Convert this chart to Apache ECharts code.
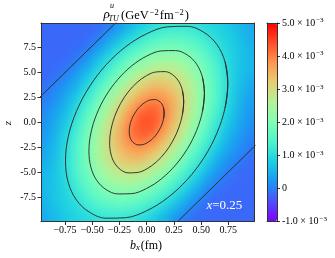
<!DOCTYPE html>
<html>
<head>
<meta charset="utf-8">
<script src="https://cdn.jsdelivr.net/npm/echarts@6.0.0/dist/echarts.min.js"></script>
<style>
html,body{margin:0;padding:0;background:#fff;}
#chart{width:335px;height:258px;}
/* smoothing layer for the density map (zlevel 1), kept inside the plot frame */
#chart canvas[data-zr-dom-id="zr_1"]{filter:blur(4.5px);clip-path:inset(23.5px 81px 37px 41.5px);}
</style>
</head>
<body>
<div id="chart"></div>
<script>
// cell centres along b_x (fm)
const bxCenters = [-0.95,-0.85,-0.75,-0.65,-0.55,-0.45,-0.35,-0.25,-0.15,-0.05,0.05,0.15,0.25,0.35,0.45,0.55,0.65,0.75,0.85,0.95];
// cell centres along z, top row first
const zCenters = [9.5,8.5,7.5,6.5,5.5,4.5,3.5,2.5,1.5,0.5,-0.5,-1.5,-2.5,-3.5,-4.5,-5.5,-6.5,-7.5,-8.5,-9.5];
// rho_TU^u in units of 1e-3 GeV^-2 fm^-2 ; one row per z (zCenters), columns follow bxCenters
const rhoTU = [
 [-0.18,-0.18,-0.18,-0.18,-0.18,-0.16,0.00,0.27,0.56,0.83,1.01,1.15,1.20,1.19,1.10,0.97,0.90,0.74,0.58,0.42],
 [-0.18,-0.18,-0.18,-0.18,-0.17,-0.02,0.27,0.60,0.92,1.18,1.38,1.50,1.55,1.50,1.38,1.19,0.97,0.85,0.65,0.47],
 [-0.18,-0.18,-0.18,-0.17,-0.05,0.23,0.59,0.97,1.28,1.55,1.75,1.86,1.88,1.80,1.64,1.40,1.11,0.88,0.71,0.51],
 [-0.18,-0.18,-0.17,-0.07,0.17,0.52,0.94,1.31,1.64,1.91,2.13,2.26,2.25,2.11,1.88,1.59,1.26,0.93,0.70,0.54],
 [-0.18,-0.17,-0.09,0.12,0.41,0.85,1.26,1.65,1.99,2.34,2.57,2.67,2.62,2.41,2.09,1.74,1.36,0.97,0.70,0.55],
 [-0.17,-0.12,0.07,0.32,0.70,1.15,1.57,1.98,2.42,2.77,3.00,3.06,2.94,2.66,2.28,1.85,1.43,1.00,0.67,0.48],
 [-0.13,0.02,0.23,0.51,0.96,1.42,1.87,2.36,2.82,3.19,3.42,3.43,3.22,2.85,2.40,1.90,1.45,1.00,0.62,0.40],
 [-0.04,0.14,0.38,0.75,1.20,1.68,2.18,2.72,3.20,3.62,3.85,3.76,3.41,2.95,2.44,1.90,1.43,0.96,0.56,0.33],
 [0.05,0.25,0.50,0.94,1.42,1.90,2.48,3.03,3.56,4.04,4.20,4.00,3.50,2.97,2.41,1.85,1.36,0.89,0.49,0.25],
 [0.13,0.35,0.66,1.11,1.60,2.12,2.71,3.28,3.87,4.33,4.37,4.03,3.45,2.88,2.30,1.75,1.25,0.79,0.42,0.18],
 [0.18,0.42,0.79,1.25,1.75,2.30,2.88,3.45,4.03,4.37,4.33,3.87,3.28,2.71,2.12,1.60,1.11,0.66,0.35,0.13],
 [0.25,0.49,0.89,1.36,1.85,2.41,2.97,3.50,4.00,4.20,4.04,3.56,3.03,2.48,1.90,1.42,0.94,0.50,0.25,0.05],
 [0.33,0.56,0.96,1.43,1.90,2.44,2.95,3.41,3.76,3.85,3.62,3.20,2.72,2.18,1.68,1.20,0.75,0.38,0.14,-0.04],
 [0.40,0.62,1.00,1.45,1.90,2.40,2.85,3.22,3.43,3.42,3.19,2.82,2.36,1.87,1.42,0.96,0.51,0.23,0.02,-0.13],
 [0.48,0.67,1.00,1.43,1.85,2.28,2.66,2.94,3.06,3.00,2.77,2.42,1.98,1.57,1.15,0.70,0.32,0.07,-0.12,-0.17],
 [0.55,0.70,0.97,1.36,1.74,2.09,2.41,2.62,2.67,2.57,2.34,1.99,1.65,1.26,0.85,0.41,0.12,-0.09,-0.17,-0.18],
 [0.54,0.70,0.93,1.26,1.59,1.88,2.11,2.25,2.26,2.13,1.91,1.64,1.31,0.94,0.52,0.17,-0.07,-0.17,-0.18,-0.18],
 [0.51,0.71,0.88,1.11,1.40,1.64,1.80,1.88,1.86,1.75,1.55,1.28,0.97,0.59,0.23,-0.05,-0.17,-0.18,-0.18,-0.18],
 [0.47,0.65,0.85,0.97,1.19,1.38,1.50,1.55,1.50,1.38,1.18,0.92,0.60,0.27,-0.02,-0.17,-0.18,-0.18,-0.18,-0.18],
 [0.42,0.58,0.74,0.90,0.97,1.10,1.19,1.20,1.15,1.01,0.83,0.56,0.27,0.00,-0.16,-0.18,-0.18,-0.18,-0.18,-0.18]
];
// contour lines, [b_x, z]  (levels 4, 3, 2, 1 x 1e-3, and 0)
const contour4 = [[0.16,0.91],[0.155,1.42],[0.139,1.83],[0.113,2.11],[0.08,2.26],[0.041,2.24],[0,2.08],[-0.041,1.77],[-0.08,1.35],[-0.113,0.83],[-0.139,0.25],[-0.155,-0.34],
                  [-0.16,-0.91],[-0.155,-1.42],[-0.139,-1.83],[-0.113,-2.11],[-0.08,-2.26],[-0.041,-2.24],[0,-2.08],[0.041,-1.77],[0.08,-1.35],[0.113,-0.83],[0.139,-0.25],[0.155,0.34]];
const contour3 = [[0.34,2.03],[0.328,3.17],[0.294,4.09],[0.24,4.73],[0.17,5.05],[0.088,5.02],[0,4.66],[-0.088,3.97],[-0.17,3.02],[-0.24,1.86],[-0.294,0.57],[-0.328,-0.76],
                  [-0.34,-2.03],[-0.328,-3.17],[-0.294,-4.09],[-0.24,-4.73],[-0.17,-5.05],[-0.088,-5.02],[0,-4.66],[0.088,-3.97],[0.17,-3.02],[0.24,-1.86],[0.294,-0.57],[0.328,0.76]];
const contour2 = [[0.53,2.88],[0.512,4.49],[0.459,5.79],[0.375,6.70],[0.265,7.15],[0.137,7.12],[0,6.60],[-0.137,5.63],[-0.265,4.27],[-0.375,2.63],[-0.459,0.81],[-0.512,-1.07],
                  [-0.53,-2.88],[-0.512,-4.49],[-0.459,-5.79],[-0.375,-6.70],[-0.265,-7.15],[-0.137,-7.12],[0,-6.60],[0.137,-5.63],[0.265,-4.27],[0.375,-2.63],[0.459,-0.81],[0.512,1.07]];
const contour1 = [[0.745,3.85],[0.72,6.01],[0.645,7.75],[0.527,8.96],[0.373,9.57],[0.193,9.52],[0,8.83],[-0.193,7.53],[-0.373,5.72],[-0.527,3.52],[-0.645,1.08],[-0.72,-1.44],
                  [-0.745,-3.85],[-0.72,-6.01],[-0.645,-7.75],[-0.527,-8.96],[-0.373,-9.57],[-0.193,-9.52],[0,-8.83],[0.193,-7.53],[0.373,-5.72],[0.527,-3.52],[0.645,-1.08],[0.72,1.44]];
const zeroLineUpper = [[-1.0,2.29],[-0.7,5.49],[-0.4,8.68],[-0.25,10.28]];
const zeroLineLower = [[1.0,-2.29],[0.7,-5.49],[0.4,-8.68],[0.25,-10.28]];
// tick values
const xTicks = [-0.75,-0.5,-0.25,0,0.25,0.5,0.75];
const yTicks = [-7.5,-5,-2.5,0,2.5,5,7.5];
const cbTicks = [-1,0,1,2,3,4,5];

const rainbow = ['#8000ff','#4d4ffc','#1a96f3','#1acee3','#4df3ce','#80ffb4','#b3f396','#e6ce74','#ff964f','#ff4f28','#ff0000'];
const FONT = '"Liberation Serif","Times New Roman",serif';
const TOP = 2;

const cells = [];
zCenters.forEach((z, i) => bxCenters.forEach((x, j) => cells.push([x, z, rhoTU[i][j]])));
const halfW = (bxCenters[1] - bxCenters[0]) / 2;
const halfH = (zCenters[0] - zCenters[1]) / 2;

const cellRender = (params, api) => {
  const x = api.value(0), y = api.value(1);
  const a = api.coord([x - halfW, y + halfH]);
  const b = api.coord([x + halfW, y - halfH]);
  return {type: 'rect', shape: {x: a[0], y: a[1], width: b[0] - a[0] + 0.6, height: b[1] - a[1] + 0.6},
          style: {fill: api.visual('color')}};
};
const mapSeries = (zlevel, clip) => ({
  type: 'custom', xAxisIndex: 0, yAxisIndex: 0, data: cells, silent: true, z: 1, zlevel: zlevel, clip: clip,
  dimensions: ['bx', 'z', 'rho'], encode: {x: 0, y: 1}, renderItem: cellRender
});

const loop = a => [a[a.length - 1]].concat(a, [a[0], a[1]]);
const lineStyle = {color: '#262626', width: 0.9};
const contourSeries = [contour4, contour3, contour2, contour1].map(c => ({
  type: 'line', data: loop(c), smooth: 0.35, symbol: 'none', silent: true, z: 5, zlevel: TOP,
  clip: true, lineStyle: lineStyle
}));
const zeroSeries = [zeroLineUpper, zeroLineLower].map(c => ({
  type: 'line', data: c, smooth: 0.3, symbol: 'none', silent: true, z: 5, zlevel: TOP, clip: true, lineStyle: lineStyle
}));

const frame = {show: true, onZero: false, lineStyle: {color: '#333', width: 1}};
const noTick = {show: false};
const noLabel = {show: false};
const labelBase = {color: '#000', fontFamily: FONT, fontSize: 10};

const chart = echarts.init(document.getElementById('chart'), null, {renderer: 'canvas'});
chart.setOption({
  animation: false,
  grid: [
    {left: 41, top: 23, width: 213.5, height: 198.5},
    {left: 267, top: 23, width: 10, height: 198.5}
  ],
  xAxis: [
    {gridIndex: 0, type: 'value', position: 'bottom', min: -0.97, max: 0.99, zlevel: TOP, z: 10,
     axisLine: frame, splitLine: {show: false},
     axisTick: {show: true, length: 3.5, customValues: xTicks, lineStyle: {color: '#000', width: 0.8}},
     axisLabel: Object.assign({customValues: xTicks, margin: 4,
       formatter: v => (v < 0 ? '\u2212' : '') + Math.abs(v).toFixed(2)}, labelBase)},
    {gridIndex: 0, type: 'value', position: 'top', min: -0.97, max: 0.99, zlevel: TOP, z: 10,
     axisLine: frame, axisTick: noTick, axisLabel: noLabel, splitLine: {show: false}},
    {gridIndex: 1, type: 'category', data: [''], position: 'bottom', zlevel: TOP, z: 10,
     axisLine: frame, axisTick: noTick, axisLabel: noLabel},
    {gridIndex: 1, type: 'category', data: [''], position: 'top', zlevel: TOP, z: 10,
     axisLine: frame, axisTick: noTick, axisLabel: noLabel}
  ],
  yAxis: [
    {gridIndex: 0, type: 'value', position: 'left', min: -9.9, max: 9.9, zlevel: TOP, z: 10,
     axisLine: frame, splitLine: {show: false},
     axisTick: {show: true, length: 3.5, customValues: yTicks, lineStyle: {color: '#000', width: 0.8}},
     axisLabel: Object.assign({customValues: yTicks, margin: 5,
       formatter: v => v.toFixed(1)}, labelBase)},
    {gridIndex: 0, type: 'value', position: 'right', min: -9.9, max: 9.9, zlevel: TOP, z: 10,
     axisLine: frame, axisTick: noTick, axisLabel: noLabel, splitLine: {show: false}},
    {gridIndex: 1, type: 'value', position: 'right', min: cbTicks[0], max: cbTicks[cbTicks.length - 1], interval: 1, zlevel: TOP, z: 10,
     axisLine: frame, splitLine: {show: false},
     axisTick: {show: true, length: 3, lineStyle: {color: '#000', width: 0.8}},
     axisLabel: {margin: 5, color: '#000',
       formatter: v => v === 0 ? '{a|0}' : '{a|' + (v < 0 ? '-' : '') + Math.abs(v).toFixed(1) + ' \u00d7 10}{b|\u22123}',
       rich: {
         a: {fontFamily: FONT, fontSize: 10, color: '#000', lineHeight: 12},
         b: {fontFamily: FONT, fontSize: 7, color: '#000', lineHeight: 1.5, verticalAlign: 'top', padding: [0, 0, 0, 1]}
       }}},
    {gridIndex: 1, type: 'value', position: 'left', min: -1, max: 5, zlevel: TOP, z: 10,
     axisLine: frame, axisTick: noTick, axisLabel: noLabel, splitLine: {show: false}}
  ],
  visualMap: {
    type: 'continuous', seriesIndex: [0, 1], dimension: 2, min: -1, max: 5,
    inRange: {color: rainbow}, calculable: false, hoverLink: false,
    left: 267, top: 23, itemWidth: 10, itemHeight: 198.5, padding: 0, zlevel: TOP, z: 1,
    textStyle: {color: 'transparent'}
  },
  series: [mapSeries(0, true), mapSeries(1, false)].concat(contourSeries, zeroSeries),
  graphic: [
    {type: 'text', x: 103.5, y: 15, zlevel: TOP, z: 20, style: {text: '\u03c1', font: 'italic 13px ' + FONT, fill: '#000', verticalAlign: 'middle'}},
    {type: 'text', x: 110, y: 5.5, zlevel: TOP, z: 20, style: {text: 'u', font: 'italic 8px ' + FONT, fill: '#000', verticalAlign: 'middle'}},
    {type: 'text', x: 108.5, y: 18.5, zlevel: TOP, z: 20, style: {text: 'TU', font: 'italic 8px ' + FONT, fill: '#000', verticalAlign: 'middle'}},
    {type: 'text', x: 121, y: 16, zlevel: TOP, z: 20, style: {
      text: '{a|(GeV}{b|\u22122}{a|fm}{b|\u22122}{a|)}', verticalAlign: 'middle',
      rich: {
        a: {fontFamily: FONT, fontSize: 12.5, fill: '#000', lineHeight: 16},
        b: {fontFamily: FONT, fontSize: 8.5, fill: '#000', lineHeight: 2, verticalAlign: 'top', padding: [0, 1, 0, 1]}
      }}},
    {type: 'text', x: 130, y: 245.5, zlevel: TOP, z: 20, style: {
      text: '{i|b}{s|x}{n|(fm)}', verticalAlign: 'middle',
      rich: {
        i: {fontFamily: FONT, fontStyle: 'italic', fontSize: 12, fill: '#000', lineHeight: 14},
        s: {fontFamily: FONT, fontStyle: 'italic', fontSize: 8.5, fill: '#000', lineHeight: 6, verticalAlign: 'bottom', padding: [0, 1, 0, 0]},
        n: {fontFamily: FONT, fontSize: 12, fill: '#000', lineHeight: 14}
      }}},
    {type: 'text', x: 8, y: 123, rotation: Math.PI / 2, zlevel: TOP, z: 20, style: {
      text: 'z', font: 'italic 11px ' + FONT, fill: '#000', align: 'center', verticalAlign: 'middle'}},
    {type: 'text', x: 206.5, y: 206, zlevel: TOP, z: 20, style: {
      text: '{i|x}{n|=0.25}', verticalAlign: 'middle',
      rich: {
        i: {fontFamily: FONT, fontStyle: 'italic', fontSize: 13, fill: '#fff'},
        n: {fontFamily: FONT, fontSize: 13, fill: '#fff'}
      }}}
  ]
});
</script>
</body>
</html>
